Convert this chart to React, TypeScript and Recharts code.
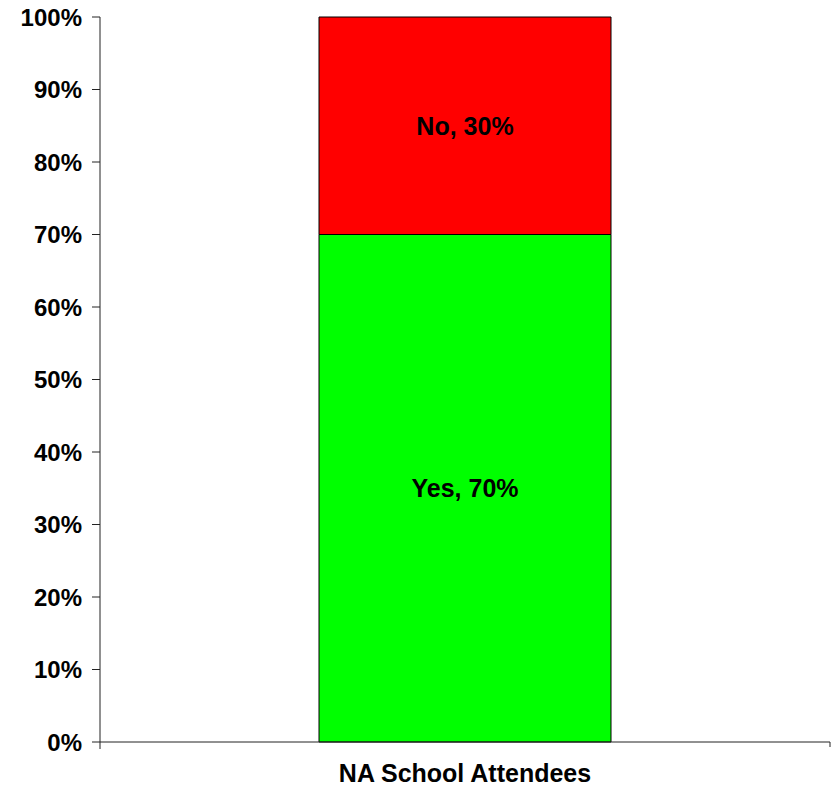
import React from "react";
import { BarChart, Bar, XAxis, YAxis, LabelList } from "recharts";

const categories = ["NA School Attendees"];
const yesValues = [70];
const noValues = [30];
const seriesNames = ["Yes", "No"];
const yTicks = [0, 10, 20, 30, 40, 50, 60, 70, 80, 90, 100];

const data = categories.map(function (c, i) {
  return { name: c, yes: yesValues[i], no: noValues[i] };
});

const FONT = '"Liberation Sans", Arial, sans-serif';
const W = 836;
const H = 788;
const MARGIN = { top: 17, right: 6, left: 0, bottom: 6 };
const Y_AXIS_W = 100;
const X_AXIS_H = 40;
const X_TICK_MARGIN = 22;

// plot edges, used for the small end ticks Excel draws on the category axis
const plotLeft = MARGIN.left + Y_AXIS_W;
const plotRight = W - MARGIN.right;

function pctLabel(name: string) {
  return function (v: any) {
    return name + ", " + v + "%";
  };
}

function CategoryTick(props: any) {
  var x = props.x;
  var y = props.y;
  var axisY = y - X_TICK_MARGIN;
  return (
    <g>
      {props.index === 0 && (
        <g stroke="#222" strokeWidth={1}>
          <line x1={plotLeft} y1={axisY} x2={plotLeft} y2={axisY + 7} />
          <line x1={plotRight} y1={axisY} x2={plotRight} y2={axisY + 5} />
        </g>
      )}
      <text
        x={x}
        y={y}
        dy="0.71em"
        textAnchor="middle"
        fill="#000"
        fontSize={25}
        fontWeight="bold"
        fontFamily={FONT}
      >
        {props.payload.value}
      </text>
    </g>
  );
}

export default function App() {
  return (
    <div style={{ position: "absolute", left: 0, top: 0, width: W, height: H, background: "#fff" }}>
      <BarChart width={W} height={H} data={data} margin={MARGIN} barCategoryGap="30%">
        <XAxis
          dataKey="name"
          height={X_AXIS_H}
          axisLine={{ stroke: "#222", strokeWidth: 1 }}
          tickLine={false}
          tickSize={0}
          tickMargin={X_TICK_MARGIN}
          tick={<CategoryTick />}
        />
        <YAxis
          domain={[0, 100]}
          ticks={yTicks}
          width={Y_AXIS_W}
          interval={0}
          axisLine={{ stroke: "#222", strokeWidth: 1 }}
          tickLine={{ stroke: "#222", strokeWidth: 1 }}
          tickSize={8}
          tickMargin={10}
          tickFormatter={function (v: number) { return v + "%"; }}
          tick={{ fill: "#000", fontSize: 24, fontWeight: "bold", fontFamily: FONT }}
        />
        <Bar dataKey="yes" stackId="a" fill="#00FF00" stroke="#000" strokeWidth={1} isAnimationActive={false}>
          <LabelList
            dataKey="yes"
            position="center"
            formatter={pctLabel(seriesNames[0])}
            style={{ fill: "#000", fontSize: 25, fontWeight: "bold", fontFamily: FONT }}
          />
        </Bar>
        <Bar dataKey="no" stackId="a" fill="#FF0000" stroke="#000" strokeWidth={1} isAnimationActive={false}>
          <LabelList
            dataKey="no"
            position="center"
            formatter={pctLabel(seriesNames[1])}
            style={{ fill: "#000", fontSize: 25, fontWeight: "bold", fontFamily: FONT }}
          />
        </Bar>
      </BarChart>
    </div>
  );
}
